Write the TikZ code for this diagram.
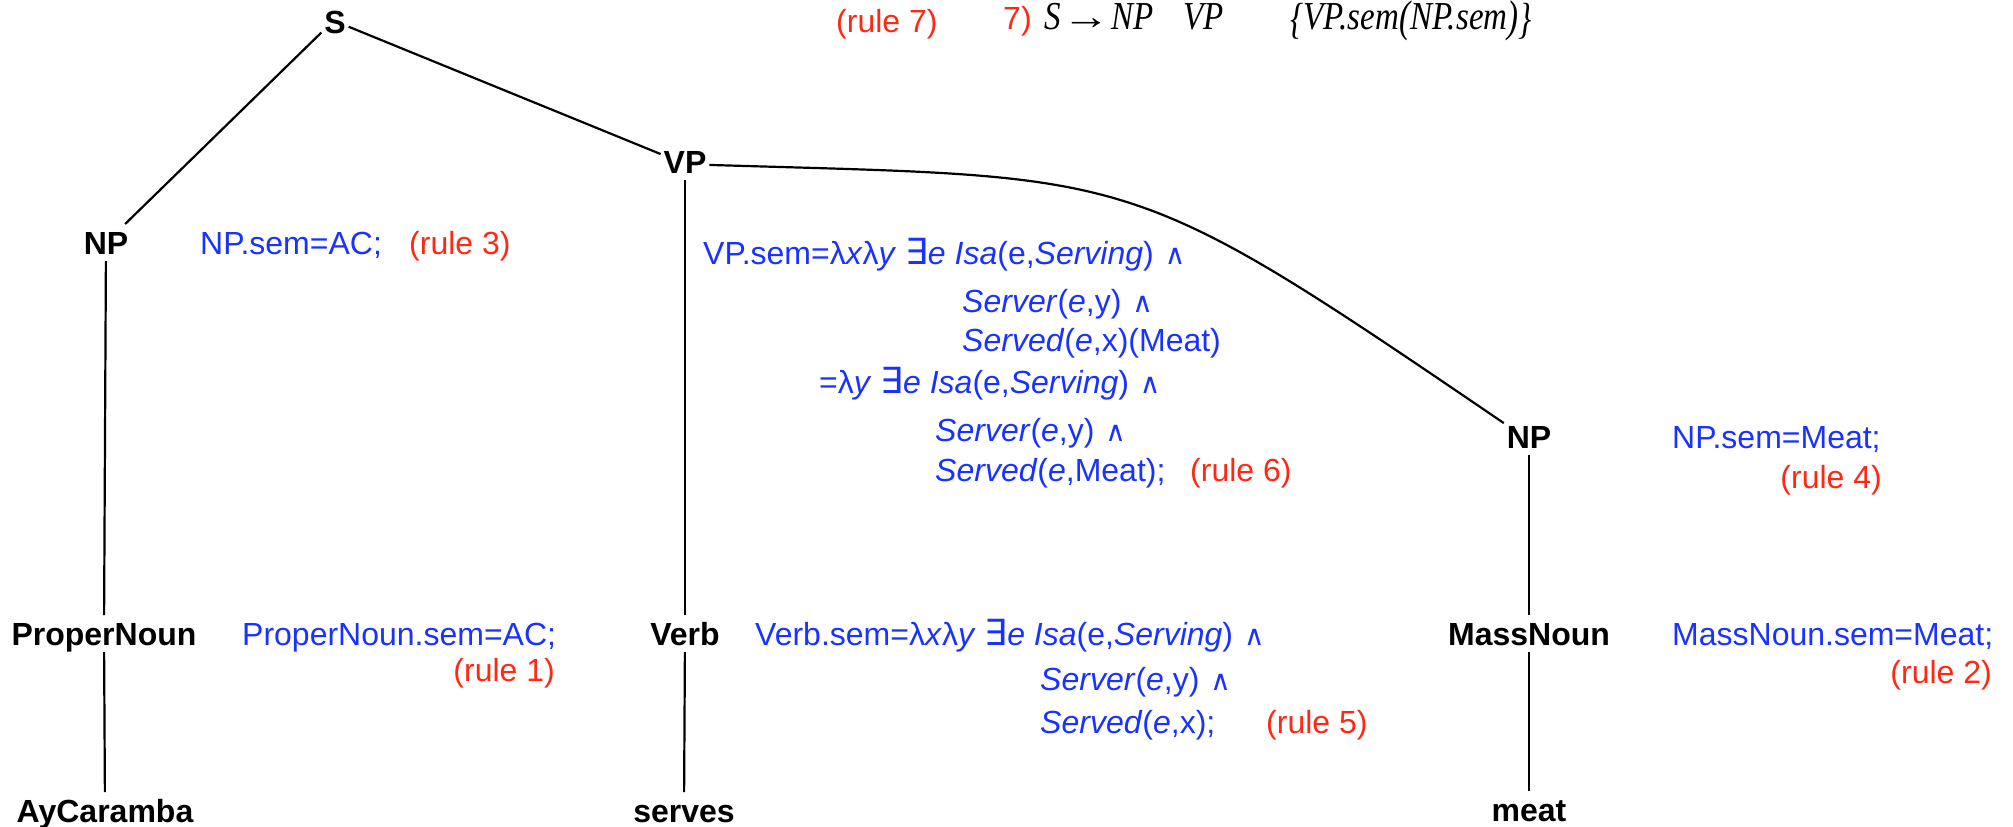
\documentclass[tikz,border=0pt]{standalone}
\usepackage{fontspec}
\usepackage{graphicx}
\setmainfont{Liberation Sans}
\newfontfamily\tmsf{Liberation Serif}
\newfontfamily\djvf{DejaVu Sans}
\definecolor{semblue}{RGB}{25,50,255}
\definecolor{rulered}{RGB}{255,40,20}
\newcommand\EXq{{\djvf\fontsize{36}{40}\selectfont ∃}}
\newcommand\ANDq{\hspace{2pt}{\djvf\fontsize{28}{32}\selectfont ∧}}
\newcommand\vst[1]{\scalebox{1}[1.2]{#1}}
\newcommand\bigbr[1]{\raisebox{-4pt}{\scalebox{1}[1.1]{#1}}}
\newcommand\midpar[1]{\raisebox{-2pt}{\scalebox{1}[1.12]{#1}}}
\tikzset{
  tn/.style={font=\fontsize{32}{38}\selectfont\bfseries, inner sep=0pt,
    outer xsep=3pt, outer ysep=7pt, text height=23pt, text depth=0pt, anchor=base},
  sem/.style={font=\fontsize{32}{38}\selectfont, text=semblue, inner sep=0pt, anchor=base west},
  rl/.style={font=\fontsize{32}{38}\selectfont, text=rulered, inner sep=0pt, anchor=base west},
  rle/.style={rl, anchor=base east},
  fm/.style={font=\fontsize{33}{40}\selectfont\tmsf\itshape, inner sep=0pt, anchor=base west},
  edge/.style={line width=2.2pt}
}
\begin{document}
\begin{tikzpicture}[x=1pt,y=-1pt]
\useasboundingbox (0,0) rectangle (2013,827);
% tree nodes
\node[tn] (S) at (335,33) {S};
\node[tn] (VP) at (685,173) {VP};
\node[tn] (NPl) at (106,254) {NP};
\node[tn] (NPr) at (1529,448) {NP};
\node[tn] (PN) at (104,645) {ProperNoun};
\node[tn] (V) at (685,645) {Verb};
\node[tn] (MN) at (1529,645) {MassNoun};
\node[tn] (AC) at (105,822) {AyCaramba};
\node[tn] (SV) at (684,822) {serves};
\node[tn] (MT) at (1529,821) {meat};
% connectors
\draw[edge] (S.219) -- (NPl.44);
\draw[edge] (S.-21) -- (VP.163);
\draw[edge] (VP.-8) .. controls (1142,178) and (1123,164) .. (NPr.152);
\draw[edge] (NPl) -- (PN);
\draw[edge] (PN) -- (AC);
\draw[edge] (VP) -- (V);
\draw[edge] (V) -- (SV);
\draw[edge] (NPr) -- (MN);
\draw[edge] (MN) -- (MT);
% top rule
\node[rl] (r7) at (836,32) {(rule 7)};
\node[rl] (n7) at (1003,29) {7)};
\node[fm] (fS) at (1044,29) {\vst{S}};
\node[fm, font=\fontsize{33}{40}\selectfont\tmsf] (fA) at (1062,29) {\scalebox{1.45}[1.15]{→}};
\node[fm] (fNP) at (1111,29) {\vst{NP}};
\node[fm] (fVP) at (1183,29) {\vst{VP}};
\node[fm] (fSem) at (1290,29) {\vst{\bigbr{\{}VP.sem\midpar{(}NP.sem\midpar{)}\bigbr{\}}}};
% left annotations
\node[sem] (npsem) at (200,254) {NP.sem=AC;};
\node[rl] (r3) at (409,254) {(rule 3)};
\node[sem] (pnsem) at (242,645) {ProperNoun.sem=AC;};
\node[rle] (r1) at (555,681) {(rule 1)};
% VP semantics
\node[sem] (vp1) at (703,264) {VP.sem=λ\textit{x}λ\textit{y} \EXq\textit{e} \textit{Isa}(e,\textit{Serving}) \ANDq};
\node[sem] (vp2) at (962,312) {\textit{Server}(\textit{e},y) \ANDq};
\node[sem] (vp3) at (962,351) {\textit{Served}(\textit{e},x)(Meat)};
\node[sem] (vp4) at (819,393) {=λ\textit{y} \EXq\textit{e} \textit{Isa}(e,\textit{Serving}) \ANDq};
\node[sem] (vp5) at (935,441) {\textit{Server}(\textit{e},y) \ANDq};
\node[sem] (vp6) at (935,481) {\textit{Served}(\textit{e},Meat);};
\node[rl] (r6) at (1190,481) {(rule 6)};
% Verb semantics
\node[sem] (vb1) at (755,645) {Verb.sem=λ\textit{x}λ\textit{y} \EXq\textit{e} \textit{Isa}(e,\textit{Serving}) \ANDq};
\node[sem] (vb2) at (1040,690) {\textit{Server}(\textit{e},y) \ANDq};
\node[sem] (vb3) at (1040,733) {\textit{Served}(\textit{e},x);};
\node[rl] (r5) at (1266,733) {(rule 5)};
% right annotations
\node[sem] (npmsem) at (1672,448) {NP.sem=Meat;};
\node[rle] (r4) at (1882,488) {(rule 4)};
\node[sem] (mnsem) at (1672,645) {MassNoun.sem=Meat;};
\node[rle] (r2) at (1992,683) {(rule 2)};
\end{tikzpicture}
\end{document}
